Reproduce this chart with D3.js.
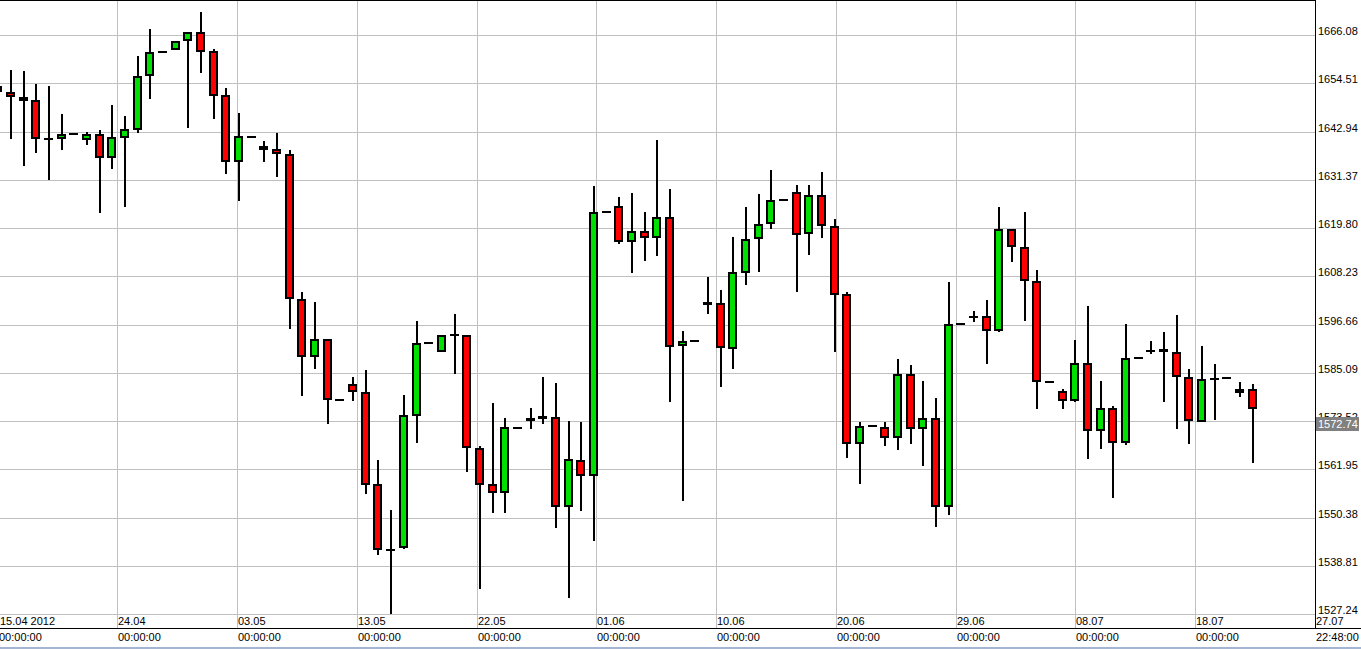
<!DOCTYPE html>
<html><head><meta charset="utf-8">
<script src="https://cdn.jsdelivr.net/npm/d3@7"></script>
<style>html,body{margin:0;padding:0;background:#fff;overflow:hidden}</style>
</head><body><svg id="chart" width="1361" height="649"></svg>
<script>
// ---- data (daily candles) ----
const dates = [
"2012-04-15","2012-04-16","2012-04-17","2012-04-18","2012-04-19","2012-04-20","2012-04-21","2012-04-22","2012-04-23","2012-04-24",
"2012-04-25","2012-04-26","2012-04-27","2012-04-28","2012-04-29","2012-04-30","2012-05-01","2012-05-02","2012-05-03","2012-05-04",
"2012-05-05","2012-05-06","2012-05-07","2012-05-08","2012-05-09","2012-05-10","2012-05-11","2012-05-12","2012-05-13","2012-05-14",
"2012-05-15","2012-05-16","2012-05-17","2012-05-18","2012-05-19","2012-05-20","2012-05-21","2012-05-22","2012-05-23","2012-05-24",
"2012-05-25","2012-05-26","2012-05-27","2012-05-28","2012-05-29","2012-05-30","2012-05-31","2012-06-01","2012-06-02","2012-06-03",
"2012-06-04","2012-06-05","2012-06-06","2012-06-07","2012-06-08","2012-06-09","2012-06-10","2012-06-11","2012-06-12","2012-06-13",
"2012-06-14","2012-06-15","2012-06-16","2012-06-17","2012-06-18","2012-06-19","2012-06-20","2012-06-21","2012-06-22","2012-06-23",
"2012-06-24","2012-06-25","2012-06-26","2012-06-27","2012-06-28","2012-06-29","2012-06-30","2012-07-01","2012-07-02","2012-07-03",
"2012-07-04","2012-07-05","2012-07-06","2012-07-07","2012-07-08","2012-07-09","2012-07-10","2012-07-11","2012-07-12","2012-07-13",
"2012-07-14","2012-07-15","2012-07-16","2012-07-17","2012-07-18","2012-07-19","2012-07-20","2012-07-21","2012-07-22","2012-07-23"];

const open = [
1653.86,1652.49,1651.29,1650.43,1641.30,1641.16,1642.43,1640.92,1642.43,1636.60,
1641.40,1643.31,1656.26,1662.08,1662.49,1664.57,1666.73,1662.18,1651.77,1635.57,
1641.71,1639.55,1638.83,1637.49,1602.74,1588.91,1593.29,1578.60,1582.51,1580.59,
1558.40,1542.60,1543.20,1574.77,1592.33,1590.03,1594.20,1594.25,1567.17,1558.40,
1556.39,1572.00,1573.57,1574.05,1574.60,1552.89,1564.22,1560.39,1623.66,1625.17,
1616.47,1619.18,1617.36,1622.39,1591.62,1592.82,1601.30,1601.92,1590.82,1609.04,
1617.19,1620.78,1626.60,1628.53,1618.39,1627.81,1620.30,1604.08,1568.06,1572.44,
1572.06,1569.57,1584.91,1571.58,1574.36,1552.89,1596.89,1598.60,1598.81,1595.14,
1619.66,1615.34,1607.19,1582.92,1580.83,1578.29,1587.54,1571.25,1576.76,1568.37,
1588.74,1590.45,1590.03,1590.18,1584.19,1573.40,1583.70,1583.95,1580.28,1581.31];

const high = [
1654.30,1657.69,1657.45,1654.34,1653.86,1647.15,1642.43,1642.83,1643.31,1649.30,
1646.67,1661.05,1667.52,1662.08,1664.72,1666.73,1671.59,1662.65,1653.38,1647.39,
1641.71,1640.68,1642.52,1638.52,1604.49,1602.09,1593.29,1578.60,1584.11,1585.72,
1564.22,1552.24,1579.80,1597.54,1592.33,1594.25,1599.14,1594.25,1567.58,1577.88,
1574.22,1572.00,1576.61,1584.11,1582.68,1573.57,1573.33,1629.89,1623.66,1627.26,
1628.29,1623.66,1640.92,1629.17,1595.07,1592.82,1608.08,1604.89,1617.60,1624.86,
1627.97,1633.73,1626.60,1630.06,1630.06,1633.25,1621.91,1604.42,1573.26,1572.44,
1573.33,1588.36,1586.99,1583.16,1579.08,1606.88,1596.89,1599.93,1602.57,1624.86,
1619.66,1623.59,1609.69,1582.92,1581.24,1592.91,1601.13,1583.16,1577.09,1596.82,
1588.74,1592.67,1594.90,1598.97,1585.96,1591.54,1587.23,1583.95,1582.84,1582.36];

const low = [
1652.00,1641.23,1634.76,1637.87,1631.26,1638.59,1642.43,1639.79,1623.35,1634.04,
1624.93,1642.67,1650.67,1662.08,1662.49,1643.72,1657.05,1646.02,1632.70,1626.37,
1641.71,1635.72,1632.12,1595.55,1579.63,1585.96,1572.78,1578.60,1578.29,1556.00,
1541.53,1527.24,1542.90,1568.22,1592.33,1590.03,1584.91,1561.42,1533.38,1551.59,
1551.59,1572.00,1571.58,1572.78,1548.00,1531.22,1552.07,1544.88,1623.66,1615.92,
1608.97,1611.99,1613.19,1578.20,1554.47,1592.82,1599.29,1581.79,1586.10,1606.24,
1609.35,1619.66,1626.60,1604.56,1613.35,1617.50,1590.18,1564.63,1558.40,1572.44,
1567.65,1566.62,1568.06,1562.86,1548.24,1551.11,1596.89,1597.23,1587.30,1594.90,
1611.60,1597.61,1576.52,1582.92,1576.52,1578.05,1564.53,1566.93,1555.19,1567.82,
1588.74,1589.63,1578.05,1571.77,1567.98,1573.26,1573.81,1583.95,1579.25,1563.43];

const close = [
1652.49,1651.22,1650.26,1641.09,1641.20,1642.43,1642.43,1642.43,1636.60,1641.56,
1643.48,1656.33,1662.08,1662.08,1664.72,1666.73,1661.94,1651.39,1635.57,1641.80,
1641.71,1638.52,1637.56,1602.81,1588.91,1593.29,1578.60,1578.60,1580.45,1558.23,
1542.65,1542.80,1575.08,1592.33,1592.33,1594.25,1594.30,1567.03,1558.23,1556.39,
1572.06,1572.00,1574.22,1574.84,1552.89,1564.46,1560.39,1623.66,1623.66,1616.47,
1619.18,1617.36,1622.39,1591.38,1592.82,1592.82,1602.02,1591.06,1609.35,1617.26,
1620.86,1626.61,1626.60,1618.15,1627.81,1620.30,1603.77,1568.06,1572.44,1572.44,
1569.57,1584.91,1571.58,1574.36,1552.89,1596.89,1596.89,1598.70,1595.14,1619.66,
1615.34,1607.19,1582.92,1582.92,1578.36,1587.54,1571.25,1576.76,1568.37,1588.74,
1588.74,1590.70,1590.82,1584.11,1573.57,1583.71,1583.90,1583.95,1581.31,1576.37];

const yTicks = [1527.24,1538.81,1550.38,1561.95,1573.52,1585.09,1596.66,1608.23,1619.80,1631.37,1642.94,1654.51,1666.08];
const xTickTimes = ["2012-04-15T03:02","2012-04-24T09:14","2012-05-03T20:33","2012-05-13T07:52","2012-05-22T19:10","2012-06-01T05:21",
                    "2012-06-10T16:40","2012-06-20T03:59","2012-06-29T15:17","2012-07-09T00:43","2012-07-18T12:02","2012-07-27T22:00"];
const xTickDateLabels = ["15.04 2012","24.04","03.05","13.05","22.05","01.06","10.06","20.06","29.06","08.07","18.07","27.07"];
const xTickTimeLabels = ["00:00:00","00:00:00","00:00:00","00:00:00","00:00:00","00:00:00","00:00:00","00:00:00","00:00:00","00:00:00","00:00:00","22:48:00"];
const currentPrice = 1572.74;
const yDomain = [1527.24, 1666.08];

// ---- layout ----
const W = 1361, H = 649;
const plotRight = 1315, plotBottom = 628;
const yTop = 35, yBottom = 614.3;
const FONT = "'Liberation Sans', Arial, sans-serif";

const parseDay = d3.utcParse("%Y-%m-%d");
const parseTime = d3.utcParse("%Y-%m-%dT%H:%M");

const x = d3.scaleUtc()
  .domain([parseTime(xTickTimes[0]), parseTime(xTickTimes[xTickTimes.length-1])])
  .range([0, plotRight]);
const y = d3.scaleLinear().domain(yDomain).range([yBottom, yTop]);

const candles = dates.map((d,i)=>({date:parseDay(d), o:open[i], h:high[i], l:low[i], c:close[i]}));

const svg = d3.select("#chart");
svg.append("rect").attr("width",W).attr("height",H).attr("fill","#fff");

const clip = svg.append("defs").append("clipPath").attr("id","plotclip")
  .append("rect").attr("x",0).attr("y",0).attr("width",plotRight).attr("height",plotBottom);

// grid
const grid = svg.append("g").attr("shape-rendering","crispEdges");
grid.selectAll("line.h").data(yTicks).join("line")
  .attr("x1",0).attr("x2",plotRight)
  .attr("y1",d=>Math.round(y(d))+0.5).attr("y2",d=>Math.round(y(d))+0.5)
  .attr("stroke","#c0c0c0").attr("stroke-width",1);
const xTicks = xTickTimes.map(parseTime);
grid.selectAll("line.v").data(xTicks.slice(1, -1)).join("line")
  .attr("x1",d=>Math.floor(x(d))+0.5).attr("x2",d=>Math.floor(x(d))+0.5)
  .attr("y1",0).attr("y2",plotBottom)
  .attr("stroke","#c0c0c0").attr("stroke-width",1);

// candles
const cg = svg.append("g").attr("clip-path","url(#plotclip)").attr("shape-rendering","crispEdges");
const cx = d=>Math.round(x(d.date));
cg.selectAll("rect.wick").data(candles).join("rect")
  .attr("x",d=>cx(d)-1).attr("width",2)
  .attr("y",d=>Math.round(y(d.h)))
  .attr("height",d=>Math.max(0, Math.round(y(d.l))-Math.round(y(d.h))))
  .attr("fill","#000");
function bodyBox(d){
  let t = Math.round(y(Math.max(d.o,d.c))), b = Math.round(y(Math.min(d.o,d.c)));
  if (b - t < 2) { const m = Math.round((t+b)/2); t = m-1; b = m+1; }
  return {t, b};
}
cg.selectAll("rect.body").data(candles).join("rect")
  .attr("x",d=>cx(d)-5).attr("width",9)
  .attr("y",d=>bodyBox(d).t).attr("height",d=>bodyBox(d).b-bodyBox(d).t)
  .attr("fill","#000");
cg.selectAll("rect.fill").data(candles.filter(d=>{const bb=bodyBox(d);return bb.b-bb.t>4;})).join("rect")
  .attr("x",d=>cx(d)-3).attr("width",5)
  .attr("y",d=>bodyBox(d).t+2).attr("height",d=>bodyBox(d).b-bodyBox(d).t-4)
  .attr("fill",d=>d.c>=d.o ? "#00e000" : "#ff0000");

// frame lines
const fr = svg.append("g").attr("shape-rendering","crispEdges");
fr.append("line").attr("x1",0).attr("x2",plotRight).attr("y1",0.5).attr("y2",0.5).attr("stroke","#000");
fr.append("line").attr("x1",plotRight+0.5).attr("x2",plotRight+0.5).attr("y1",0).attr("y2",plotBottom).attr("stroke","#000");
fr.append("line").attr("x1",0).attr("x2",W).attr("y1",plotBottom+0.5).attr("y2",plotBottom+0.5).attr("stroke","#000");
fr.append("rect").attr("x",0).attr("y",647).attr("width",W).attr("height",2).attr("fill","#a3b5d2");

// y labels
svg.append("g").selectAll("text").data(yTicks).join("text")
  .attr("x",plotRight+3).attr("y",d=>Math.round(y(d)))
  .attr("font-family",FONT).attr("font-size",11).attr("fill","#000")
  .text(d=>d3.format(".2f")(d));

// current price box
const cy = Math.round(y(currentPrice));
svg.append("rect").attr("x",plotRight+1).attr("y",cy-7).attr("width",43).attr("height",14)
  .attr("fill","#808080").attr("shape-rendering","crispEdges");
svg.append("text").attr("x",plotRight+3).attr("y",cy+4)
  .attr("font-family",FONT).attr("font-size",11).attr("fill","#fff")
  .text(d3.format(".2f")(currentPrice));

// x labels
const xl = svg.append("g").attr("font-family",FONT).attr("font-size",11).attr("fill","#000");
xl.selectAll("text.d").data(xTicks).join("text")
  .attr("x",(d,i)=> i===0 ? 0 : Math.floor(x(d))+1)
  .attr("y",625)
  .text((d,i)=>xTickDateLabels[i]);
xl.selectAll("text.t").data(xTicks).join("text")
  .attr("x",(d,i)=> i===0 ? -1 : Math.floor(x(d))+1)
  .attr("y",641)
  .text((d,i)=>xTickTimeLabels[i]);
</script>
</body></html>
